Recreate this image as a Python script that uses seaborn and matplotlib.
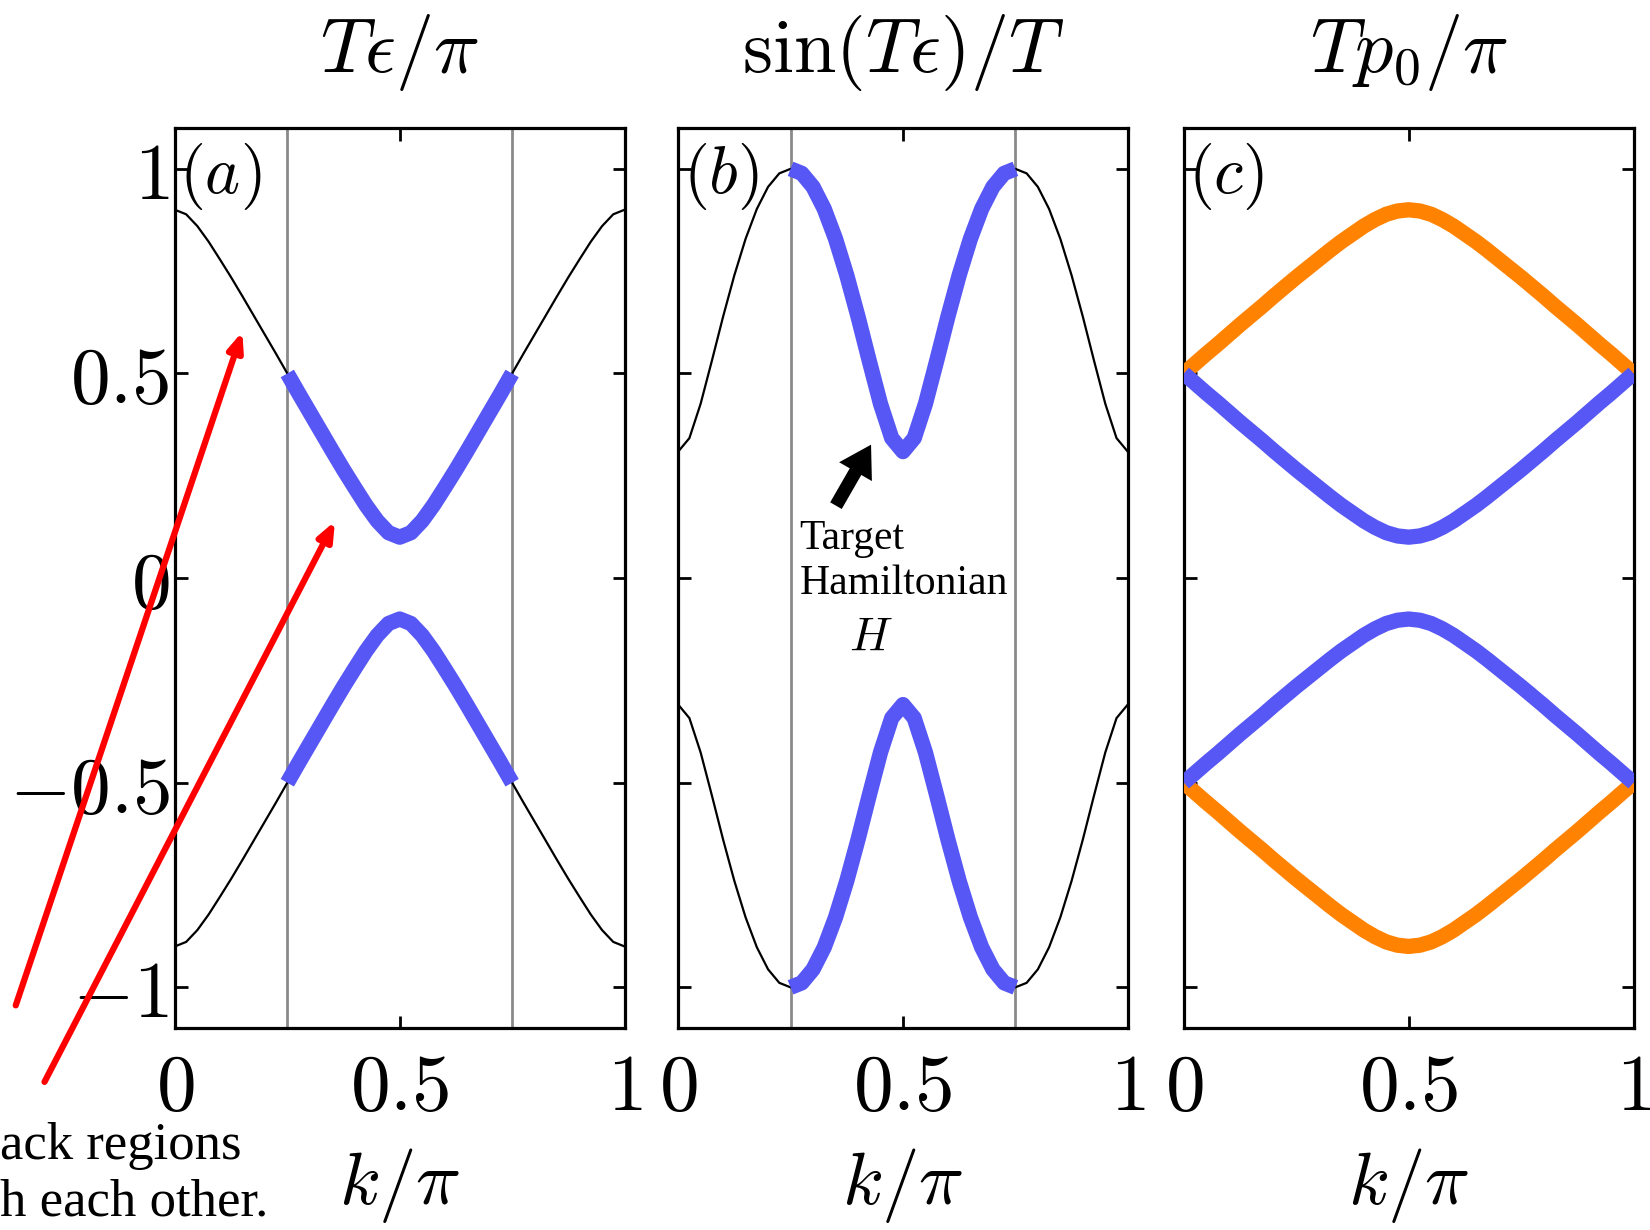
import matplotlib
matplotlib.use("Agg")
import matplotlib.pyplot as plt
import seaborn as sns
import numpy as np
import pandas as pd

# ---- data ----
k_vals = [0.0, 0.025, 0.05, 0.075, 0.1, 0.125, 0.15, 0.175, 0.2, 0.225,
          0.25, 0.275, 0.3, 0.325, 0.35, 0.375, 0.4, 0.425, 0.45, 0.475,
          0.5, 0.525, 0.55, 0.575, 0.6, 0.625, 0.65, 0.675, 0.7, 0.725,
          0.75, 0.775, 0.8, 0.825, 0.85, 0.875, 0.9, 0.925, 0.95, 0.975, 1.0]

# (a) T*eps/pi
eps_upper = [0.900, 0.889, 0.860, 0.822, 0.779, 0.735, 0.689, 0.642, 0.595, 0.548,
             0.500, 0.452, 0.405, 0.358, 0.311, 0.265, 0.221, 0.178, 0.140, 0.111,
             0.100, 0.111, 0.140, 0.178, 0.221, 0.265, 0.311, 0.358, 0.405, 0.452,
             0.500, 0.548, 0.595, 0.642, 0.689, 0.735, 0.779, 0.822, 0.860, 0.889, 0.900]
eps_lower = [-0.900, -0.889, -0.860, -0.822, -0.779, -0.735, -0.689, -0.642, -0.595, -0.548,
             -0.500, -0.452, -0.405, -0.358, -0.311, -0.265, -0.221, -0.178, -0.140, -0.111,
             -0.100, -0.111, -0.140, -0.178, -0.221, -0.265, -0.311, -0.358, -0.405, -0.452,
             -0.500, -0.548, -0.595, -0.642, -0.689, -0.735, -0.779, -0.822, -0.860, -0.889, -0.900]

# (b) sin(T*eps)/T
sin_upper = [0.309, 0.342, 0.426, 0.531, 0.639, 0.740, 0.829, 0.902, 0.956, 0.989,
             1.000, 0.989, 0.956, 0.902, 0.829, 0.740, 0.639, 0.531, 0.426, 0.342,
             0.309, 0.342, 0.426, 0.531, 0.639, 0.740, 0.829, 0.902, 0.956, 0.989,
             1.000, 0.989, 0.956, 0.902, 0.829, 0.740, 0.639, 0.531, 0.426, 0.342, 0.309]
sin_lower = [-0.309, -0.342, -0.426, -0.531, -0.639, -0.740, -0.829, -0.902, -0.956, -0.989,
             -1.000, -0.989, -0.956, -0.902, -0.829, -0.740, -0.639, -0.531, -0.426, -0.342,
             -0.309, -0.342, -0.426, -0.531, -0.639, -0.740, -0.829, -0.902, -0.956, -0.989,
             -1.000, -0.989, -0.956, -0.902, -0.829, -0.740, -0.639, -0.531, -0.426, -0.342, -0.309]

# (c) T*p0/pi
p0_orange_up = [0.500, 0.524, 0.548, 0.571, 0.595, 0.619, 0.642, 0.665, 0.689, 0.712,
                0.735, 0.757, 0.779, 0.801, 0.822, 0.841, 0.860, 0.876, 0.889, 0.897,
                0.900, 0.897, 0.889, 0.876, 0.860, 0.841, 0.822, 0.801, 0.779, 0.757,
                0.735, 0.712, 0.689, 0.665, 0.642, 0.619, 0.595, 0.571, 0.548, 0.524, 0.500]
p0_blue_up = [0.500, 0.476, 0.452, 0.429, 0.405, 0.381, 0.358, 0.335, 0.311, 0.288,
              0.265, 0.243, 0.221, 0.199, 0.178, 0.159, 0.140, 0.124, 0.111, 0.103,
              0.100, 0.103, 0.111, 0.124, 0.140, 0.159, 0.178, 0.199, 0.221, 0.243,
              0.265, 0.288, 0.311, 0.335, 0.358, 0.381, 0.405, 0.429, 0.452, 0.476, 0.500]
p0_blue_low = [-0.500, -0.476, -0.452, -0.429, -0.405, -0.381, -0.358, -0.335, -0.311, -0.288,
               -0.265, -0.243, -0.221, -0.199, -0.178, -0.159, -0.140, -0.124, -0.111, -0.103,
               -0.100, -0.103, -0.111, -0.124, -0.140, -0.159, -0.178, -0.199, -0.221, -0.243,
               -0.265, -0.288, -0.311, -0.335, -0.358, -0.381, -0.405, -0.429, -0.452, -0.476, -0.500]
p0_orange_low = [-0.500, -0.524, -0.548, -0.571, -0.595, -0.619, -0.642, -0.665, -0.689, -0.712,
                 -0.735, -0.757, -0.779, -0.801, -0.822, -0.841, -0.860, -0.876, -0.889, -0.897,
                 -0.900, -0.897, -0.889, -0.876, -0.860, -0.841, -0.822, -0.801, -0.779, -0.757,
                 -0.735, -0.712, -0.689, -0.665, -0.642, -0.619, -0.595, -0.571, -0.548, -0.524, -0.500]

region_edges = [0.25, 0.75]   # gray lines / window drawn in blue
x_ticks = [0, 0.5, 1]
x_ticklabels = ["$0$", "$0.5$", "$1$"]
y_ticks = [-1, -0.5, 0, 0.5, 1]
y_ticklabels = ["$-1$", "$-0.5$", "$0$", "$0.5$", "$1$"]
titles = [r"$T\epsilon/\pi$", r"$\sin(T\epsilon)/T$", r"$Tp_0/\pi$"]
panel_tags = ["$(a)$", "$(b)$", "$(c)$"]

BLUE = "#5757F5"
ORANGE = "#FF8200"

sns.set_style("ticks")
plt.rcParams["mathtext.fontset"] = "cm"
plt.rcParams["font.family"] = ["DejaVu Serif"]
plt.rcParams["text.color"] = "black"
plt.rcParams["axes.labelcolor"] = "black"
plt.rcParams["xtick.color"] = "black"
plt.rcParams["ytick.color"] = "black"

fig = plt.figure(figsize=(16.5, 12.3), dpi=100)
lefts = [0.106, 0.411, 0.7175]
axes = [fig.add_axes([l, 0.164, 0.2725, 0.732]) for l in lefts]

df = pd.DataFrame({"k": k_vals, "eps_up": eps_upper, "eps_low": eps_lower,
                   "sin_up": sin_upper, "sin_low": sin_lower,
                   "o_up": p0_orange_up, "b_up": p0_blue_up,
                   "b_low": p0_blue_low, "o_low": p0_orange_low})
inside = df[(df.k >= region_edges[0]) & (df.k <= region_edges[1])]


def thick(ax, data, col, color):
    sns.lineplot(data=data, x="k", y=col, ax=ax, color=color, lw=11,
                 solid_capstyle="butt", solid_joinstyle="round", zorder=4,
                 estimator=None, sort=False)


def thin(ax, data, col):
    sns.lineplot(data=data, x="k", y=col, ax=ax, color="black", lw=1.6,
                 solid_joinstyle="round", zorder=3, estimator=None, sort=False)


# panel (a)
for col in ["eps_up", "eps_low"]:
    thin(axes[0], df, col)
    thick(axes[0], inside, col, BLUE)

# panel (b)
for col in ["sin_up", "sin_low"]:
    thin(axes[1], df, col)
    thick(axes[1], inside, col, BLUE)

# panel (c)
for col, c in [("o_up", ORANGE), ("o_low", ORANGE), ("b_up", BLUE), ("b_low", BLUE)]:
    thick(axes[2], df, col, c)

for i, ax in enumerate(axes):
    if i < 2:
        for xv in region_edges:
            ax.axvline(xv, color="#8a8a8a", lw=2, zorder=2)
    ax.set_xlim(0, 1)
    ax.set_ylim(-1.1, 1.1)
    ax.set_xticks(x_ticks)
    ax.set_xticklabels(x_ticklabels, fontsize=57)
    ax.set_yticks(y_ticks)
    if i == 0:
        ax.set_yticklabels(y_ticklabels, fontsize=57)
    else:
        ax.set_yticklabels([])
    ax.tick_params(direction="in", length=9, width=2, top=True, right=True, pad=4)
    ax.tick_params(axis="x", pad=16)
    for s in ax.spines.values():
        s.set_linewidth(2.3)
        s.set_color("black")
    ax.set_xlabel(r"$k/\pi$", fontsize=54, labelpad=14)
    ax.set_ylabel("")
    ax.set_title(titles[i], fontsize=55, pad=40)
    ax.text(0.01, 0.985, panel_tags[i], transform=ax.transAxes, fontsize=48,
            ha="left", va="top", zorder=6)

# red arrows in (a) from the cropped caption
for tail, tip in [((-0.354, -1.044), (0.150, 0.602)), ((-0.290, -1.231), (0.356, 0.139))]:
    axes[0].annotate("", xy=tip, xytext=tail, xycoords="data", textcoords="data",
                     annotation_clip=False, zorder=10,
                     arrowprops=dict(arrowstyle="-|>,head_length=1.1,head_width=0.45",
                                     color="#FF0000", lw=4.5, shrinkA=0, shrinkB=0))

fig.text(0.0, 0.068, "ack regions", fontsize=38, family="Liberation Serif",
         ha="left", va="center")
fig.text(0.0, 0.022, "h each other.", fontsize=38, family="Liberation Serif",
         ha="left", va="center")

# target Hamiltonian note in (b)
axes[1].annotate("", xy=(0.429, 0.326), xytext=(0.351, 0.177),
                 arrowprops=dict(arrowstyle="simple,head_length=0.7,head_width=0.85,tail_width=0.3",
                                 color="black", lw=0, shrinkA=0, shrinkB=0,
                                 mutation_scale=32), zorder=6)
axes[1].text(0.27, 0.095, "Target", fontsize=30, family="Liberation Serif",
             ha="left", va="center")
axes[1].text(0.27, -0.015, "Hamiltonian", fontsize=30, family="Liberation Serif",
             ha="left", va="center")
axes[1].text(0.429, -0.145, "$H$", fontsize=34, ha="center", va="center")

fig.savefig("out.png", dpi=100)
